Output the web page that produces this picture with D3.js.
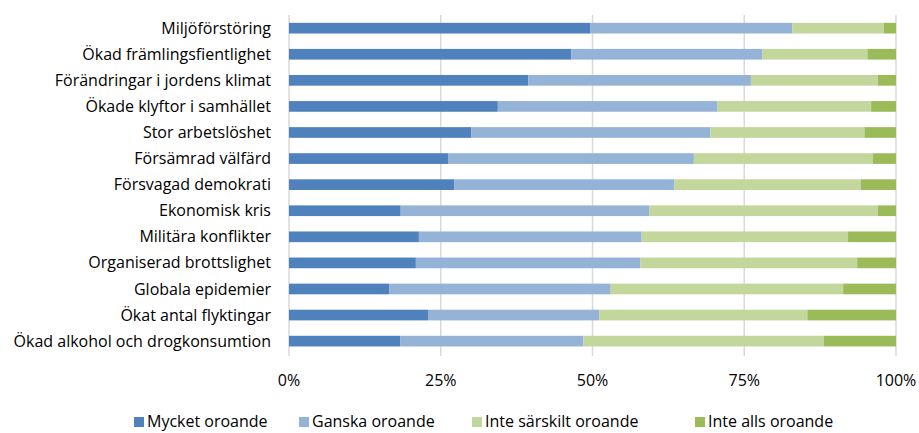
<!DOCTYPE html>
<html>
<head>
<meta charset="utf-8">
<script src="https://cdn.jsdelivr.net/npm/d3@7"></script>
<style>
  body { margin: 0; background: #fff; }
  svg text { font-family: "Open Sans", Lato, sans-serif; fill: #000; }
</style>
</head>
<body>
<div id="chart"></div>
<script>
// categories, top to bottom
var categories = ["Miljöförstöring", "Ökad främlingsfientlighet", "Förändringar i jordens klimat",
  "Ökade klyftor i samhället", "Stor arbetslöshet", "Försämrad välfärd", "Försvagad demokrati",
  "Ekonomisk kris", "Militära konflikter", "Organiserad brottslighet", "Globala epidemier",
  "Ökat antal flyktingar", "Ökad alkohol och drogkonsumtion"];

var seriesNames = ["Mycket oroande", "Ganska oroande", "Inte särskilt oroande", "Inte alls oroande"];
var seriesColors = ["#4f81bd", "#95b3d7", "#c3d69b", "#9bbb59"];

// percent per category, same order as categories
var mycket     = [49.6, 46.5, 39.4, 34.4, 30.0, 26.2, 27.2, 18.4, 21.4, 20.9, 16.5, 22.9, 18.3];
var ganska     = [33.3, 31.5, 36.7, 36.2, 39.4, 40.5, 36.3, 41.0, 36.7, 37.0, 36.5, 28.2, 30.2];
var inteSarsk  = [15.1, 17.3, 20.9, 25.3, 25.4, 29.5, 30.7, 37.6, 34.0, 35.7, 38.3, 34.3, 39.6];
var inteAlls   = [ 2.0,  4.7,  3.0,  4.1,  5.2,  3.8,  5.8,  3.0,  7.9,  6.4,  8.7, 14.6, 11.9];

var tickValues = [0, 0.25, 0.5, 0.75, 1];

var width = 919, height = 433;
var margin = {left: 289, right: 23, top: 15, bottom: 80};

var rows = categories.map(function(c, i) {
  var tot = mycket[i] + ganska[i] + inteSarsk[i] + inteAlls[i];
  return {cat: c, s0: mycket[i] / tot, s1: ganska[i] / tot, s2: inteSarsk[i] / tot, s3: inteAlls[i] / tot};
});

var stack = d3.stack().keys(["s0", "s1", "s2", "s3"]);
var layers = stack(rows);

var x = d3.scaleLinear().domain([0, 1]).range([margin.left, width - margin.right]);
var y = d3.scaleBand().domain(categories).range([margin.top, margin.top + 13 * 26.1]).paddingInner(0.59).paddingOuter(0.3);

var svg = d3.select("#chart").append("svg")
  .attr("width", width)
  .attr("height", height);

// gridlines
svg.append("g")
  .selectAll("line")
  .data(tickValues)
  .enter().append("line")
  .attr("x1", function(d) { return x(d); })
  .attr("x2", function(d) { return x(d); })
  .attr("y1", 15)
  .attr("y2", 356)
  .attr("stroke", "#d9d9d9")
  .attr("stroke-width", 1.5);

// bars
svg.append("g")
  .selectAll("g")
  .data(layers)
  .enter().append("g")
  .attr("fill", function(d, i) { return seriesColors[i]; })
  .selectAll("rect")
  .data(function(d) { return d; })
  .enter().append("rect")
  .attr("x", function(d) { return x(d[0]); })
  .attr("width", function(d) { return x(d[1]) - x(d[0]); })
  .attr("y", function(d) { return y(d.data.cat); })
  .attr("height", y.bandwidth());

// category labels
svg.append("g")
  .selectAll("text")
  .data(categories)
  .enter().append("text")
  .attr("x", 271)
  .attr("y", function(d) { return y(d) + y.bandwidth() / 2; })
  .attr("dy", "0.35em")
  .attr("text-anchor", "end")
  .style("font-size", "16px")
  .text(function(d) { return d; });

// x tick labels
svg.append("g")
  .selectAll("text")
  .data(tickValues)
  .enter().append("text")
  .attr("x", function(d) { return x(d); })
  .attr("y", 380)
  .attr("dy", "0.35em")
  .attr("text-anchor", "middle")
  .style("font-size", "16px")
  .text(function(d) { return d3.format(".0%")(d); });

// legend (raised a little so the text is not clipped at the bottom)
var legendX = [134, 299, 472, 695];
var legend = svg.append("g")
  .selectAll("g")
  .data(seriesNames)
  .enter().append("g")
  .attr("transform", function(d, i) { return "translate(" + legendX[i] + ",421)"; });

legend.append("rect")
  .attr("x", 0)
  .attr("y", -4)
  .attr("width", 10)
  .attr("height", 10)
  .attr("fill", function(d, i) { return seriesColors[i]; });

legend.append("text")
  .attr("x", 13)
  .attr("y", 0)
  .attr("dy", "0.35em")
  .style("font-size", "16px")
  .text(function(d) { return d; });
</script>
</body>
</html>
